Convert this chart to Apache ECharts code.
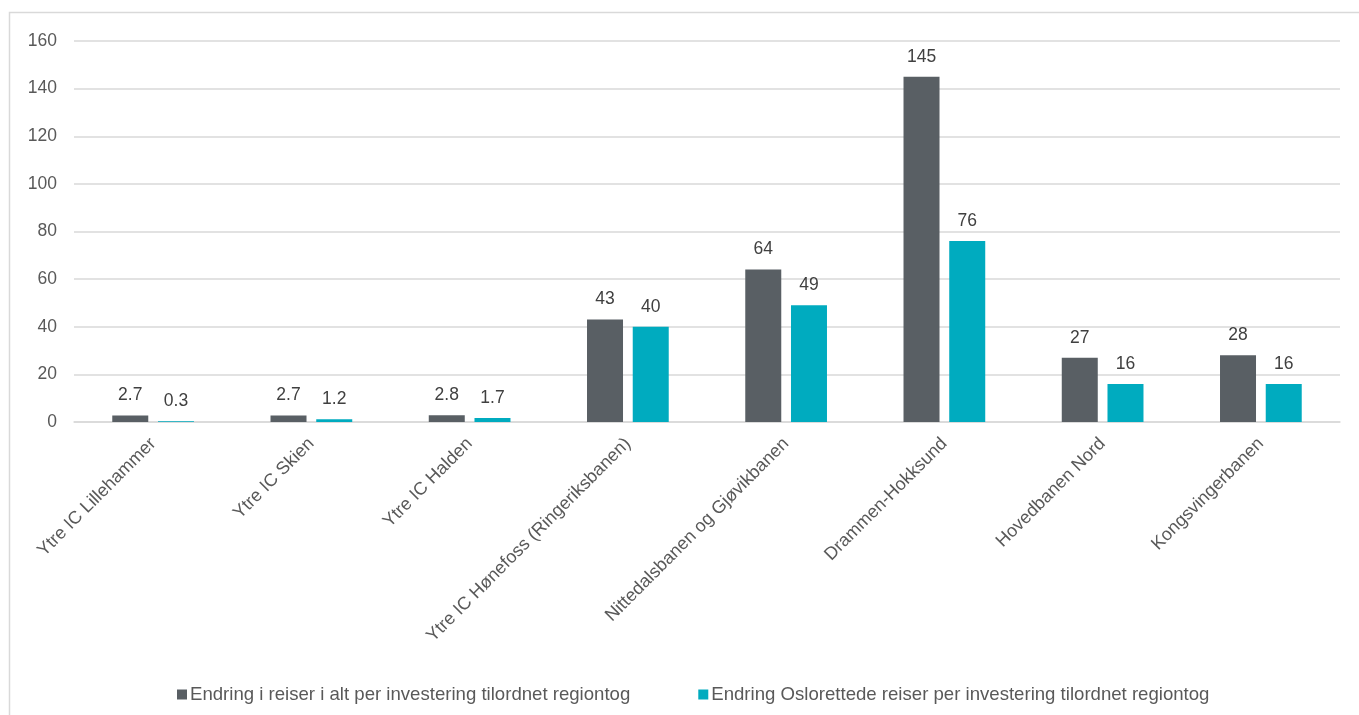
<!DOCTYPE html>
<html>
<head>
<meta charset="utf-8">
<script src="https://cdn.jsdelivr.net/npm/echarts@6/dist/echarts.min.js"></script>
<style>
html,body{margin:0;padding:0;background:#fff;}
#chart{width:1359px;height:715px;}
</style>
</head>
<body>
<div id="chart"></div>
<script>
const categories = ["Ytre IC Lillehammer","Ytre IC Skien","Ytre IC Halden","Ytre IC Hønefoss (Ringeriksbanen)","Nittedalsbanen og Gjøvikbanen","Drammen-Hokksund","Hovedbanen Nord","Kongsvingerbanen"];
const seriesNames = ["Endring i reiser i alt per investering tilordnet regiontog","Endring Oslorettede reiser per investering tilordnet regiontog"];
const totalValues = [2.7, 2.7, 2.8, 43, 64, 145, 27, 28];
const osloValues = [0.3, 1.2, 1.7, 40, 49, 76, 16, 16];
const yTicks = [0, 20, 40, 60, 80, 100, 120, 140, 160];

const chart = echarts.init(document.getElementById('chart'), null, {renderer:'canvas'});
const font = 'Liberation Sans, Arial, sans-serif';
const labelStyle = {show:true, position:'top', distance:11, color:'#404040', fontSize:17.5, fontFamily:font};
chart.setOption({
  animation:false,
  backgroundColor:'#fff',
  graphic:[{type:'rect', shape:{x:9.5,y:12.5,width:1400,height:800}, style:{fill:'none', stroke:'#d9d9d9', lineWidth:1.5}, silent:true}],
  grid:{left:74, right:19, top:41, bottom:293, containLabel:false},
  legend:{
    top:680, left:172, itemWidth:10, itemHeight:10, itemGap:68, icon:'rect',
    textStyle:{color:'#595959', fontSize:18.6, fontFamily:font, padding:[0,0,0,-2]},
    data:seriesNames
  },
  xAxis:{
    type:'category', data:categories,
    axisLine:{show:true, lineStyle:{color:'#d9d9d9', width:1.5}},
    axisTick:{show:false},
    axisLabel:{rotate:45, interval:0, color:'#595959', fontSize:18, fontFamily:font, margin:19}
  },
  yAxis:{
    type:'value', min:yTicks[0], max:yTicks[yTicks.length-1], interval:20,
    axisLine:{show:false}, axisTick:{show:false},
    axisLabel:{color:'#595959', fontSize:17.5, fontFamily:font, margin:17},
    splitLine:{lineStyle:{color:'#d9d9d9', width:1.5}}
  },
  series:[
    {name:seriesNames[0], type:'bar', data:totalValues, barWidth:36, barGap:'27%', itemStyle:{color:'#595f64'}, label:labelStyle},
    {name:seriesNames[1], type:'bar', data:osloValues, barWidth:36, barGap:'27%', itemStyle:{color:'#00abbf'}, label:labelStyle}
  ]
});
</script>
</body>
</html>
